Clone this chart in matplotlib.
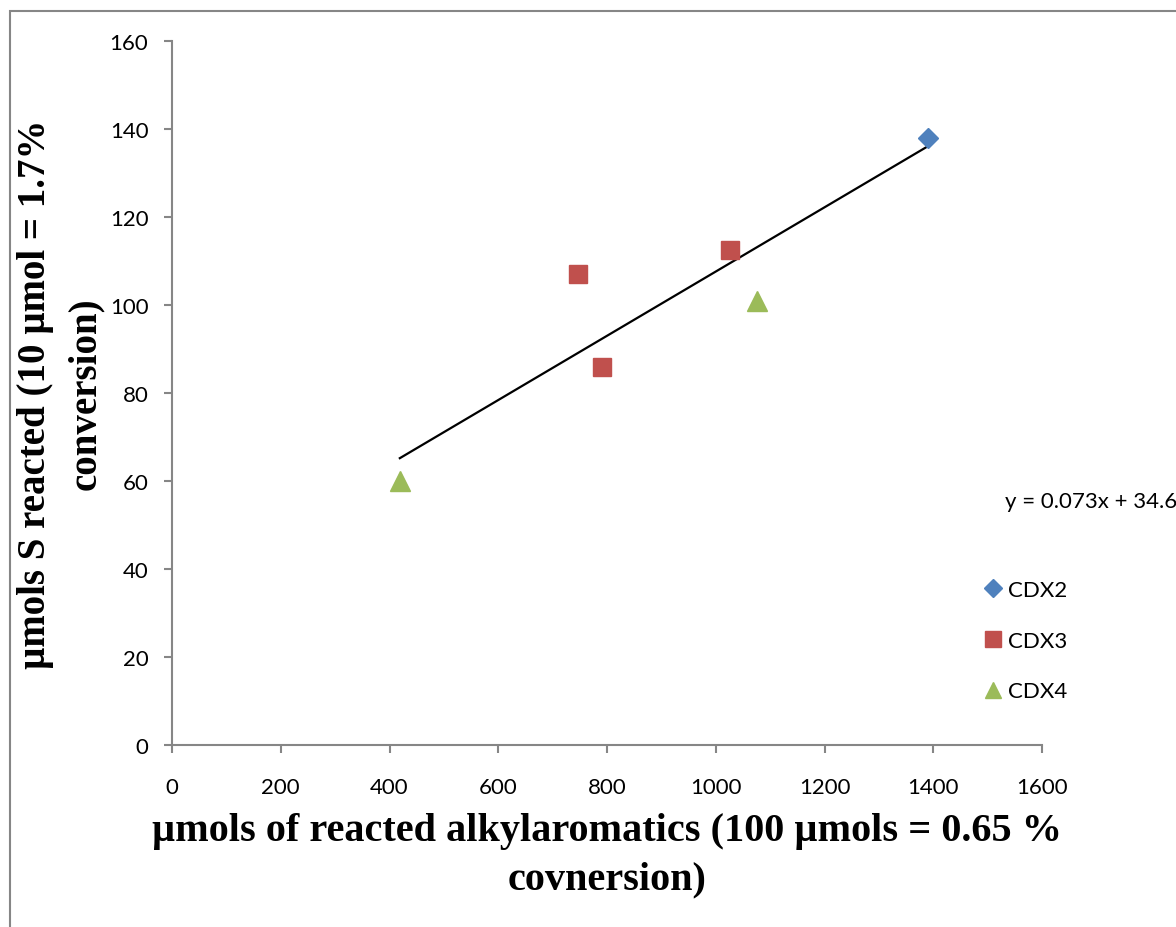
import matplotlib
matplotlib.use("Agg")
import numpy as np
import matplotlib.pyplot as plt
from matplotlib.patches import Rectangle

# CDX series (reacted alkylaromatics vs reacted S, in umol)
cdx2_x = [1390]
cdx2_y = [138]
cdx3_x = [747, 790, 1026]
cdx3_y = [107, 86, 112.5]
cdx4_x = [419, 1075]
cdx4_y = [60, 101]

# linear trend over all points
slope = 0.073
intercept = 34.6

x_ticks = [0, 200, 400, 600, 800, 1000, 1200, 1400, 1600]
y_ticks = [0, 20, 40, 60, 80, 100, 120, 140, 160]

tick_font = "Lato"
title_font = "Liberation Serif"
grey = "#868686"

fig = plt.figure(figsize=(11.76, 9.28), dpi=100)
ax = fig.add_axes([172 / 1176, 1 - 746 / 928, 870 / 1176, 704 / 928])

ax.plot(cdx2_x, cdx2_y, linestyle="none", marker="D", markersize=10.5,
        color="#4F81BD", label="CDX2", zorder=3)
ax.plot(cdx3_x, cdx3_y, linestyle="none", marker="s", markersize=13,
        color="#C0504D", label="CDX3", zorder=3)
ax.plot(cdx4_x, cdx4_y, linestyle="none", marker="^", markersize=14,
        color="#9BBB59", label="CDX4", zorder=3)

all_x = np.array(cdx2_x + cdx3_x + cdx4_x, dtype=float)
fit_x = np.array([all_x.min(), all_x.max()])
ax.plot(fit_x, slope * fit_x + intercept, color="black", linewidth=1.6, zorder=2)

ax.set_xlim(0, 1600)
ax.set_ylim(0, 160)
ax.set_xticks(x_ticks)
ax.set_yticks(y_ticks)
ax.set_xticklabels([str(v) for v in x_ticks], fontfamily=tick_font, fontsize=16)
ax.set_yticklabels([str(v) for v in y_ticks], fontfamily=tick_font, fontsize=16)
ax.tick_params(axis="both", direction="out", length=6, width=1.5, color=grey)
ax.tick_params(axis="x", pad=17)
ax.tick_params(axis="y", pad=11)

for side in ["top", "right"]:
    ax.spines[side].set_visible(False)
for side in ["left", "bottom"]:
    ax.spines[side].set_color(grey)
    ax.spines[side].set_linewidth(1.5)

ax.set_xlabel("\u00b5mols of reacted alkylaromatics (100 \u00b5mols = 0.65 %\ncovnersion)",
              fontfamily=title_font, fontweight="bold", fontsize=29,
              linespacing=1.4, labelpad=11)
ax.set_ylabel("\u00b5mols S reacted (10 \u00b5mol = 1.7%\nconversion)",
              fontfamily=title_font, fontweight="bold", fontsize=28,
              linespacing=1.45, labelpad=4)

fig.text(1005 / 1176, 1 - 502 / 928, "y = 0.073x + 34.6",
         fontfamily=tick_font, fontsize=16, va="center", ha="left")

ax.legend(loc="upper left", bbox_to_anchor=(985 / 1176, 1 - 581 / 928),
          bbox_transform=fig.transFigure, frameon=False,
          prop={"family": tick_font, "size": 16},
          handlelength=0.75, handletextpad=0.3, labelspacing=1.38,
          borderaxespad=0, borderpad=0, markerscale=0.85)

# outer chart frame
fig.patches.append(Rectangle((10 / 1176, -0.1), 1.2, 1 - 12 / 928 + 0.1,
                             transform=fig.transFigure, fill=False,
                             edgecolor=grey, linewidth=1.5))

fig.savefig("out.png", dpi=100)
